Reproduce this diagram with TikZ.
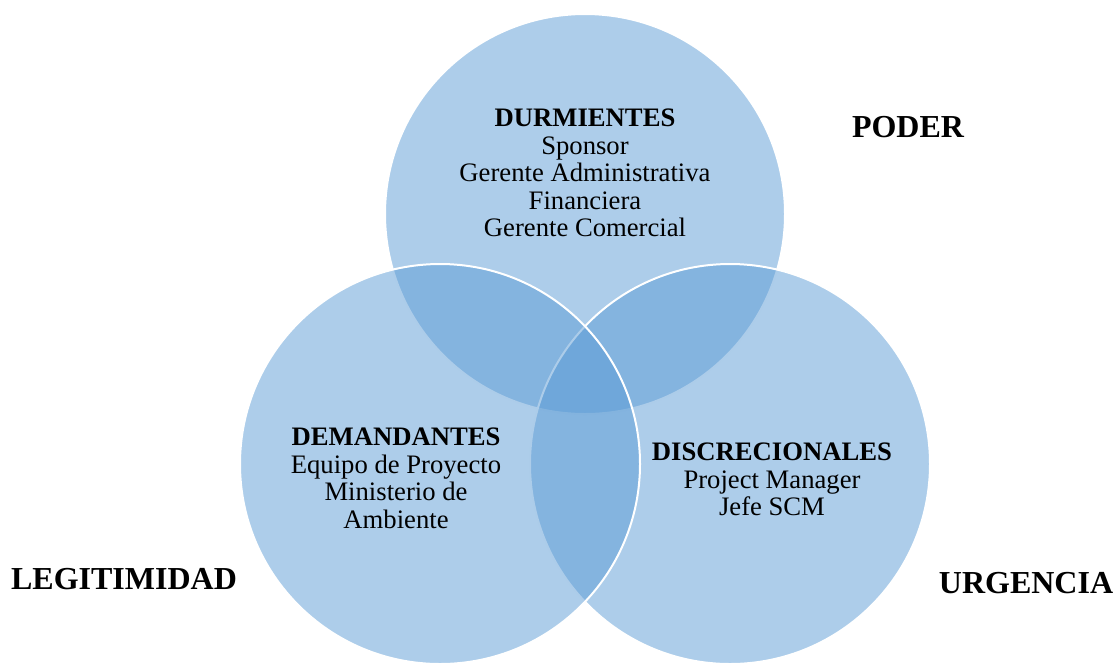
\documentclass[tikz,border=0pt]{standalone}
\usepackage{fontspec}
\setmainfont{Liberation Serif}
\usepackage{tikz}
\usepackage{xcolor}
\definecolor{vennblue}{RGB}{91,155,213}
\tikzset{
  venn circle/.style={
    fill=vennblue,
    fill opacity=0.5,
    draw=white,
    line width=1.5pt
  }}
\tikzset{
  group text/.style={
    align=center,
    inner sep=0pt,
    anchor=north,
    text opacity=1,
    font=\fontsize{20}{20.6}\selectfont
  }}
\tikzset{
  set label/.style={
    inner sep=0pt,
    anchor=base,
    font=\fontsize{24}{28}\selectfont\bfseries
  }}

\begin{document}
\begin{tikzpicture}[x=0.75pt,y=-0.75pt]
    \useasboundingbox (0,0) rectangle (1116,662);
    \clip (0,0) rectangle (1116,662);
    \coordinate (poder) at (585,214);
    \coordinate (legitimidad) at (440,464);
    \coordinate (urgencia) at (730,464);
    \begin{scope}
        \fill[venn circle] (poder) circle[radius=200];
        \filldraw[venn circle] (urgencia) circle[radius=200];
        \filldraw[venn circle] (legitimidad) circle[radius=200];
    \end{scope}
    \node[group text](durmientes) at (585,109)
        {\textbf{DURMIENTES}\\Sponsor\\Gerente Administrativa\\Financiera\\Gerente Comercial};
    \node[group text](demandantes) at (396,428)
        {\textbf{DEMANDANTES}\\Equipo de Proyecto\\Ministerio de\\Ambiente};
    \node[group text](discrecionales) at (772,443)
        {\textbf{DISCRECIONALES}\\Project Manager\\Jefe SCM};
    \node[set label](lpoder) at (908,137) {PODER};
    \node[set label](llegitimidad) at (124,589) {LEGITIMIDAD};
    \node[set label](lurgencia) at (1026,593) {URGENCIA};
\end{tikzpicture}
\end{document}
